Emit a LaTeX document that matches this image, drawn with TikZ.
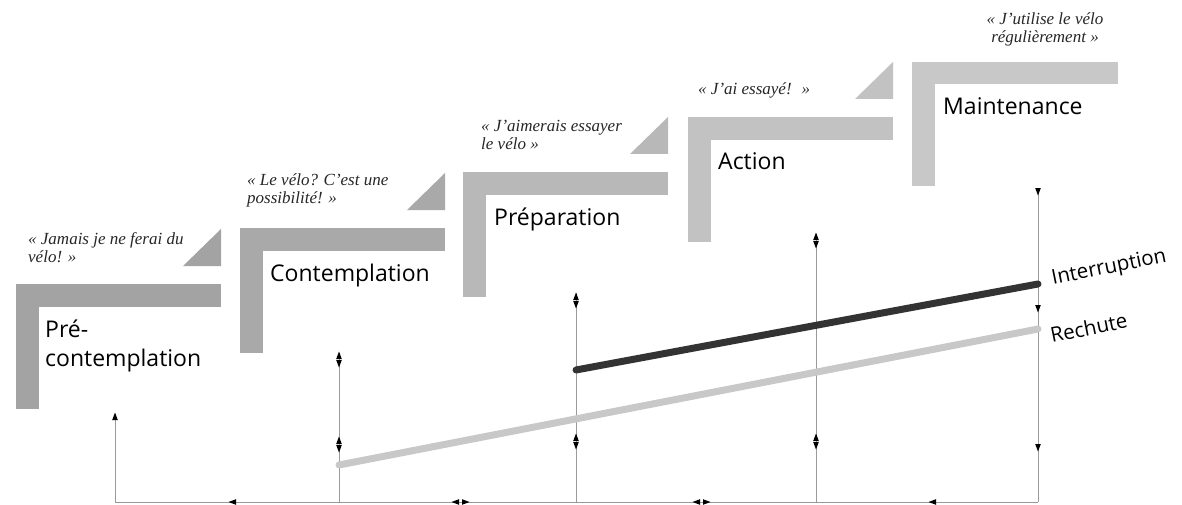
\documentclass[tikz,border=0pt]{standalone}
\usepackage{fontspec}
\setmainfont{Open Sans}
\newfontfamily\quotefont{Liberation Serif}
\begin{document}
\begin{tikzpicture}[x=1pt,y=-1pt]
\useasboundingbox (0,0) rectangle (1182,505);
\definecolor{gA}{HTML}{A3A3A3}
\definecolor{gB}{HTML}{A9A9A9}
\definecolor{gC}{HTML}{B8B8B8}
\definecolor{gD}{HTML}{C2C2C2}
\definecolor{gE}{HTML}{C8C8C8}
\definecolor{guide}{HTML}{9A9A9A}
\definecolor{darkline}{HTML}{333333}
\definecolor{lightline}{HTML}{C8C8C8}
\tikzset{
  stagelabel/.style={font=\fontsize{23}{29}\selectfont, anchor=base west, inner sep=0pt, align=left},
  quote/.style={font=\quotefont\itshape\fontsize{17}{18}\selectfont, anchor=base west, inner sep=0pt, align=left, text=black!85},
  guideline/.style={draw=guide, line width=0.8pt},
  trendline/.style={line width=7pt, line cap=round},
  curvelabel/.style={font=\fontsize{20.5}{24}\selectfont, anchor=base west, inner sep=0pt, rotate=11.5}
}
% stair step: #1 color, (x,y) top-left
\newcommand{\stair}[3]{%
  \fill[#1] (#2,#3) rectangle ++(205,23);
  \fill[#1] (#2,#3) rectangle ++(23,125);
  \fill[#1] (#2+167,#3-18) -- (#2+205,#3-55) -- (#2+205,#3-18) -- cycle;
}
\newcommand{\uptri}[2]{\fill (#1-2.8,#2+4) -- (#1,#2-3.5) -- (#1+2.8,#2+4) -- cycle;}
\newcommand{\dntri}[2]{\fill (#1-2.8,#2-4) -- (#1,#2+3.5) -- (#1+2.8,#2-4) -- cycle;}
\newcommand{\lftri}[2]{\fill (#1+4,#2-2.8) -- (#1-3.5,#2) -- (#1+4,#2+2.8) -- cycle;}
\newcommand{\rttri}[2]{\fill (#1-4,#2-2.8) -- (#1+3.5,#2) -- (#1-4,#2+2.8) -- cycle;}

% stairs
\stair{gA}{16}{284}
\stair{gB}{240}{228}
\stair{gC}{463}{172}
\stair{gD}{688}{117}
\fill[gE] (912,62) rectangle ++(206,22);
\fill[gE] (912,62) rectangle ++(23,124);

% stage labels (base = last line)
\node[stagelabel] (pre) at (45,366) {Pré-\\contemplation};
\node[stagelabel] (cont) at (270,281) {Contemplation};
\node[stagelabel] (prep) at (494,225) {Préparation};
\node[stagelabel] (act) at (718,170) {Action};
\node[stagelabel] (maint) at (943,115) {Maintenance};

% quotes (base = last line)
\node[quote] (q1) at (28,262) {« Jamais je ne ferai du\\vélo! »};
\node[quote] (q2) at (247,204) {« Le vélo? C’est une\\possibilité! »};
\node[quote] (q3) at (481,150) {« J’aimerais essayer\\le vélo »};
\node[quote] (q4) at (698,95) {« J’ai essayé!~ »};
\node[quote, anchor=base, align=center] (q5) at (1045,43) {« J’utilise le vélo\\régulièrement »};

% guide lines
\coordinate (b0) at (115,502);
\coordinate (b1) at (339,502);
\coordinate (b2) at (576,502);
\coordinate (b3) at (816,502);
\coordinate (b4) at (1038,502);
\draw[guideline] (b0) -- (b4);
\draw[guideline] (b0) -- (115,414);
\draw[guideline] (b1) -- (339,353);
\draw[guideline] (b2) -- (576,293);
\draw[guideline] (b3) -- (816,234);
\draw[guideline] (b4) -- (1038,189);

% arrowheads
\uptri{115}{416}
\uptri{339}{355}\dntri{339}{364}
\uptri{339}{440}\dntri{339}{449}
\uptri{576}{296}\dntri{576}{305}
\uptri{576}{437}\dntri{576}{446}
\uptri{816}{236}\dntri{816}{245}
\uptri{816}{437}\dntri{816}{446}
\dntri{1038}{192}
\dntri{1038}{309}
\dntri{1038}{448}
\lftri{232}{502}
\lftri{455}{502}\rttri{466}{502}
\lftri{696}{502}\rttri{707}{502}
\lftri{932}{502}

% trend lines
\coordinate (r0) at (339,465);
\coordinate (r1) at (1038,329);
\coordinate (i0) at (576,370);
\coordinate (i1) at (1038,284);
\draw[trendline, draw=lightline] (r0) -- (r1);
\draw[trendline, draw=darkline] (i0) -- (i1);
\node[curvelabel] (interr) at (1053,285) {Interruption};
\node[curvelabel] (rech) at (1052,343) {Rechute};
\end{tikzpicture}
\end{document}
